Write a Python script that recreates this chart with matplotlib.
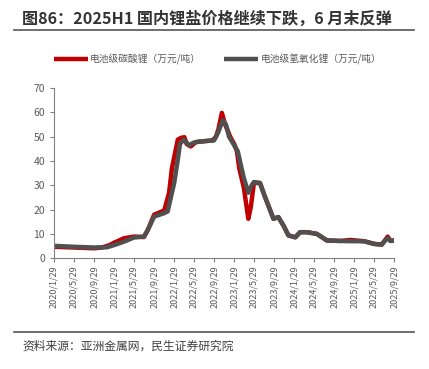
import pandas as pd
import matplotlib
matplotlib.use("Agg")
import matplotlib.pyplot as plt
from matplotlib.lines import Line2D

plt.rcParams['font.family'] = ['Noto Sans CJK SC', 'DejaVu Sans']

# 电池级碳酸锂（万元/吨）
carbonate_dates = [
    "2020-01-29", "2020-05-29", "2020-09-29", "2020-11-15", "2021-01-01",
    "2021-01-29", "2021-03-29", "2021-05-29", "2021-07-29", "2021-08-20",
    "2021-09-29", "2021-11-29", "2021-12-29", "2022-01-15", "2022-02-20",
    "2022-03-10", "2022-04-01", "2022-04-15", "2022-05-10", "2022-06-10",
    "2022-09-20", "2022-10-10", "2022-10-25", "2022-11-15", "2022-12-05",
    "2023-01-05", "2023-01-29", "2023-02-15", "2023-03-01", "2023-03-29",
    "2023-04-25", "2023-05-10", "2023-05-29", "2023-07-05", "2023-08-05",
    "2023-09-25", "2023-10-25", "2023-11-25", "2023-12-25", "2024-02-05",
    "2024-03-05", "2024-04-15", "2024-06-15", "2024-08-15", "2024-11-05",
    "2025-01-05", "2025-03-29", "2025-05-29", "2025-07-15", "2025-08-05",
    "2025-08-20", "2025-09-05", "2025-09-29",
]
carbonate = [
    4.8, 4.5, 4.2, 4.5, 5.5,
    6.5, 8.3, 9.0, 8.8, 11.5,
    18.0, 19.7, 27.0, 37.0, 48.8,
    49.5, 49.8, 47.0, 46.0, 47.8,
    48.5, 50.0, 53.0, 59.8, 55.0,
    50.0, 47.0, 44.0, 37.0, 29.0,
    16.3, 21.0, 31.0, 31.0, 25.2,
    16.3, 17.0, 13.5, 9.5, 8.7,
    10.8, 10.8, 10.1, 7.4, 7.2,
    7.6, 7.1, 6.0, 5.7, 7.6,
    9.0, 7.3, 7.4,
]

# 电池级氢氧化锂（万元/吨）
hydroxide_dates = [
    "2020-01-29", "2020-05-29", "2020-09-29", "2020-12-15", "2021-01-29",
    "2021-03-29", "2021-05-29", "2021-07-29", "2021-08-22", "2021-09-29",
    "2021-11-29", "2021-12-20", "2022-01-29", "2022-02-20", "2022-03-05",
    "2022-03-29", "2022-04-29", "2022-05-29", "2022-06-29", "2022-09-29",
    "2022-10-25", "2022-11-20", "2022-12-10", "2022-12-29", "2023-01-29",
    "2023-02-20", "2023-03-15", "2023-03-29", "2023-04-25", "2023-05-15",
    "2023-05-29", "2023-07-05", "2023-08-05", "2023-09-25", "2023-10-25",
    "2023-11-25", "2023-12-25", "2024-02-05", "2024-03-05", "2024-04-15",
    "2024-06-15", "2024-08-15", "2024-11-05", "2025-01-05", "2025-03-29",
    "2025-05-29", "2025-07-15", "2025-08-05", "2025-08-20", "2025-09-05",
    "2025-09-29",
]
hydroxide = [
    5.2, 4.8, 4.5, 4.6, 5.5,
    6.9, 8.6, 9.0, 11.8, 17.2,
    18.6, 19.3, 31.0, 40.6, 47.0,
    48.8, 46.5, 47.6, 48.0, 48.5,
    52.0, 56.7, 55.0, 50.0, 46.5,
    44.0, 37.0, 33.0, 27.0, 30.0,
    31.4, 31.0, 25.2, 16.3, 17.0,
    13.5, 9.5, 8.7, 10.8, 10.8,
    10.1, 7.4, 7.2, 7.1, 7.1,
    6.0, 5.7, 7.4, 8.4, 7.2,
    7.3,
]

tick_dates = pd.date_range("2020-01-01", "2025-09-01", freq="4MS") + pd.Timedelta(days=28)
tick_labels = [f"{d.year}/{d.month}/{d.day}" for d in tick_dates]

title = "图86：2025H1 国内锂盐价格继续下跌，6 月末反弹"
source = "资料来源：亚洲金属网，民生证券研究院"

fig = plt.figure(figsize=(4.29, 3.69), dpi=100)
ax = fig.add_axes([0.126, 0.2995, 0.793, 0.462])

ax.plot(pd.to_datetime(carbonate_dates), carbonate, color="#C00000", lw=3.2,
        label="电池级碳酸锂（万元/吨）", solid_capstyle="butt")
ax.plot(pd.to_datetime(hydroxide_dates), hydroxide, color="#505050", lw=3.2,
        label="电池级氢氧化锂（万元/吨）", solid_capstyle="butt")

ax.set_xlim(tick_dates[0], tick_dates[-1])
ax.set_ylim(0, 70)
ax.set_yticks(range(0, 71, 10))
ax.set_xticks(tick_dates)
ax.set_xticklabels(tick_labels, rotation=90, fontsize=6.5, color="#595959")
ax.tick_params(axis="y", labelsize=7.5, labelcolor="#595959", length=3,
               color="#808080", width=0.8)
ax.tick_params(axis="x", length=3, color="#808080", width=0.8, pad=2)
for s in ["top", "right"]:
    ax.spines[s].set_visible(False)
for s in ["left", "bottom"]:
    ax.spines[s].set_color("#808080")
    ax.spines[s].set_linewidth(0.8)

fig.legend(loc="center", bbox_to_anchor=(0.507, 0.840), ncol=2, frameon=False,
           fontsize=7, handlelength=3.5, handletextpad=0.25, columnspacing=2.4,
           labelcolor="#595959")

fig.text(0.052, 0.951, title, fontsize=11.6, fontweight="bold", color="#333333",
         va="center", ha="left")
fig.add_artist(Line2D([0.033, 0.965], [0.919, 0.919], color="#555555", lw=1.2))
fig.add_artist(Line2D([0.033, 0.965], [0.101, 0.101], color="#555555", lw=1.2))
fig.text(0.052, 0.062, source, fontsize=8.5, color="#404040", va="center", ha="left")

fig.savefig("out.png", dpi=100)
